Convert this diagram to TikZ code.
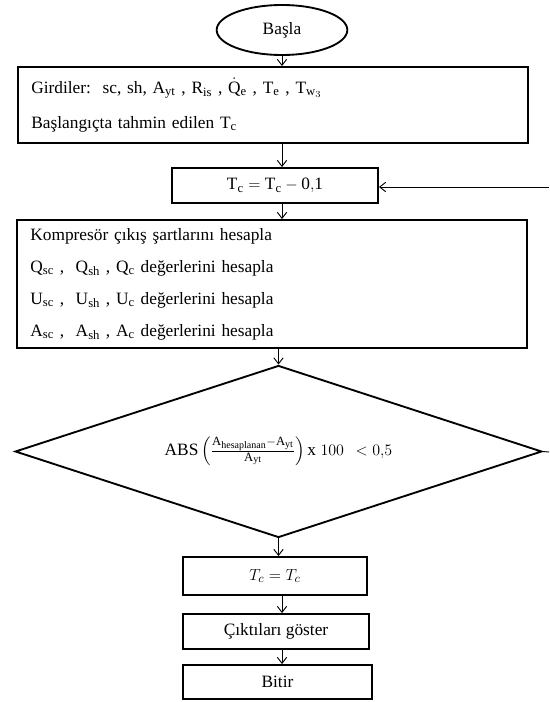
\documentclass[tikz,border=0pt]{standalone}
\usepackage{amsmath}
\usepackage{fontspec}
\setmainfont{Liberation Serif}
\DeclareMathSizes{13}{13}{9.5}{7.5}
\usetikzlibrary{shapes.geometric, arrows.meta}

\begin{document}
\begin{tikzpicture}[
    x=0.75pt, y=-0.75pt,
    terminal/.style={ellipse, draw, line width=1.4pt, inner sep=0pt, minimum width=98pt, minimum height=37.5pt, font=\fontsize{13pt}{15pt}\selectfont},
    box/.style={rectangle, draw, line width=1.4pt, inner sep=0pt, text centered, font=\fontsize{13pt}{15pt}\selectfont},
    listbox/.style={rectangle, draw, line width=1.4pt, inner xsep=10pt, inner ysep=0pt, text width=362.5pt, align=left},
    decision/.style={diamond, draw, line width=1.4pt, inner sep=0pt, aspect=3.06, minimum width=395pt, minimum height=129pt, font=\fontsize{13pt}{15pt}\selectfont},
    arrow/.style={-{Straight Barb[length=4.5pt,width=7pt]}, line width=0.7pt}
]
\useasboundingbox (0,0) rectangle (549,702);
\node[terminal] (basla) at (282,30) {Başla};
\node[listbox, minimum height=57pt, font=\fontsize{13pt}{26pt}\selectfont] (girdi) at (273,105)
    {Girdiler:\ \ sc, sh, $\mathrm{A_{yt}}$ , $\mathrm{R_{is}}$ , $\dot{\mathrm{Q}}_{\mathrm{e}}$ , $\mathrm{T_{e}}$ , $\mathrm{T}_{\mathrm{w}_3}$\\
     Başlangıçta tahmin edilen $\mathrm{T_c}$};
\node[box, minimum width=154.5pt, minimum height=26.25pt] (azalt) at (275,185.5) {$\mathrm{T_c = T_c - 0{,}1}$};
\node[listbox, minimum height=96pt, font=\fontsize{13pt}{24pt}\selectfont] (hesap) at (272,284)
    {Kompresör çıkış şartlarını hesapla\\
     $\mathrm{Q_{sc}}$ ,\ \ $\mathrm{Q_{sh}}$ , $\mathrm{Q_c}$ değerlerini hesapla\\
     $\mathrm{U_{sc}}$ ,\ \ $\mathrm{U_{sh}}$ , $\mathrm{U_c}$ değerlerini hesapla\\
     $\mathrm{A_{sc}}$ ,\ \ $\mathrm{A_{sh}}$ , $\mathrm{A_c}$ değerlerini hesapla};
\node[decision] (kosul) at (278.5,451.5)
    {$\mathrm{ABS}\left(\frac{\mathrm{A_{hesaplanan}}-\mathrm{A_{yt}}}{\mathrm{A_{yt}}}\right)\mathrm{x}\;100\;\,<0{,}5$};
\node[box, minimum width=138pt, minimum height=28.5pt] (sonuc) at (275,576) {$T_c = T_c$};
\node[box, minimum width=139.5pt, minimum height=26.25pt] (goster) at (276,631.5) {Çıktıları göster};
\node[box, minimum width=141.75pt, minimum height=25.5pt] (bitir) at (277.5,682) {Bitir};

% akis
\coordinate (eksen) at (282,0);
\coordinate (geri) at (549,187);
\coordinate (sag) at (549,452);
\draw[arrow] (basla.south) -- (basla.south |- girdi.north);
\draw[arrow] (girdi.south -| eksen) -- (azalt.north -| eksen);
\draw[arrow] (azalt.south -| eksen) -- (hesap.north -| eksen);
\draw[arrow] (hesap.south -| kosul.north) -- (kosul.north);
\draw[arrow] (kosul.south) -- (kosul.south |- sonuc.north);
\draw[arrow] (sonuc.south -| eksen) -- (goster.north -| eksen);
\draw[arrow] (goster.south -| eksen) -- (bitir.north -| eksen);
\draw[arrow] (geri) -- (geri -| azalt.east);
\draw[line width=0.7pt] (kosul.east) -- (sag);
\end{tikzpicture}
\end{document}
